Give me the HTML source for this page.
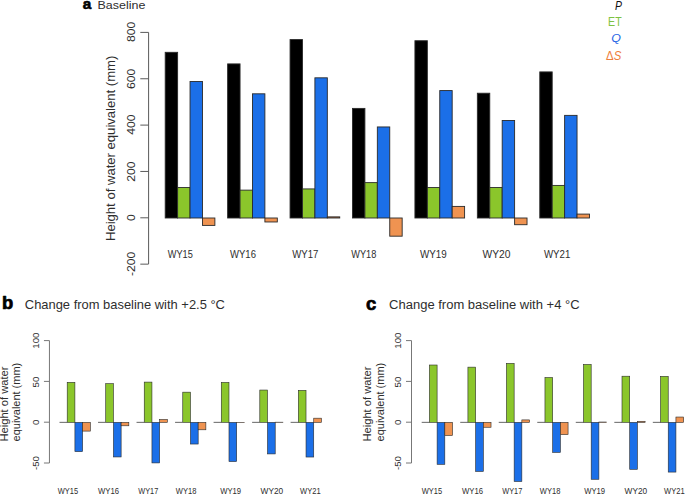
<!DOCTYPE html>
<html><head><meta charset="utf-8"><style>
html,body{margin:0;padding:0;background:#fff;}
svg{display:block;font-family:"Liberation Sans", sans-serif;}
</style></head><body>
<svg width="685" height="495" viewBox="0 0 685 495">
<rect x="165.20" y="52.32" width="12.42" height="165.68" fill="#000" stroke="#2a2a2a" stroke-width="0.9"/>
<rect x="177.62" y="187.51" width="12.42" height="30.49" fill="#8bc62b" stroke="#2a2a2a" stroke-width="0.9"/>
<rect x="190.04" y="81.53" width="12.42" height="136.47" fill="#1b6fe8" stroke="#2a2a2a" stroke-width="0.9"/>
<rect x="202.46" y="218.00" width="12.42" height="7.40" fill="#ef9351" stroke="#2a2a2a" stroke-width="0.9"/>
<rect x="227.63" y="63.90" width="12.42" height="154.10" fill="#000" stroke="#2a2a2a" stroke-width="0.9"/>
<rect x="240.05" y="190.13" width="12.42" height="27.87" fill="#8bc62b" stroke="#2a2a2a" stroke-width="0.9"/>
<rect x="252.47" y="93.81" width="12.42" height="124.19" fill="#1b6fe8" stroke="#2a2a2a" stroke-width="0.9"/>
<rect x="264.89" y="218.00" width="12.42" height="3.97" fill="#ef9351" stroke="#2a2a2a" stroke-width="0.9"/>
<rect x="290.06" y="39.57" width="12.42" height="178.43" fill="#000" stroke="#2a2a2a" stroke-width="0.9"/>
<rect x="302.48" y="188.92" width="12.42" height="29.08" fill="#8bc62b" stroke="#2a2a2a" stroke-width="0.9"/>
<rect x="314.90" y="77.82" width="12.42" height="140.18" fill="#1b6fe8" stroke="#2a2a2a" stroke-width="0.9"/>
<rect x="327.32" y="216.87" width="12.42" height="1.13" fill="#ef9351" stroke="#2a2a2a" stroke-width="0.9"/>
<rect x="352.49" y="108.40" width="12.42" height="109.60" fill="#000" stroke="#2a2a2a" stroke-width="0.9"/>
<rect x="364.91" y="182.62" width="12.42" height="35.38" fill="#8bc62b" stroke="#2a2a2a" stroke-width="0.9"/>
<rect x="377.33" y="126.95" width="12.42" height="91.05" fill="#1b6fe8" stroke="#2a2a2a" stroke-width="0.9"/>
<rect x="389.75" y="218.00" width="12.42" height="18.18" fill="#ef9351" stroke="#2a2a2a" stroke-width="0.9"/>
<rect x="414.92" y="40.73" width="12.42" height="177.27" fill="#000" stroke="#2a2a2a" stroke-width="0.9"/>
<rect x="427.34" y="187.51" width="12.42" height="30.49" fill="#8bc62b" stroke="#2a2a2a" stroke-width="0.9"/>
<rect x="439.76" y="90.57" width="12.42" height="127.43" fill="#1b6fe8" stroke="#2a2a2a" stroke-width="0.9"/>
<rect x="452.18" y="206.40" width="12.42" height="11.60" fill="#ef9351" stroke="#2a2a2a" stroke-width="0.9"/>
<rect x="477.35" y="93.22" width="12.42" height="124.78" fill="#000" stroke="#2a2a2a" stroke-width="0.9"/>
<rect x="489.77" y="187.51" width="12.42" height="30.49" fill="#8bc62b" stroke="#2a2a2a" stroke-width="0.9"/>
<rect x="502.19" y="120.47" width="12.42" height="97.53" fill="#1b6fe8" stroke="#2a2a2a" stroke-width="0.9"/>
<rect x="514.61" y="218.00" width="12.42" height="6.71" fill="#ef9351" stroke="#2a2a2a" stroke-width="0.9"/>
<rect x="539.78" y="71.90" width="12.42" height="146.10" fill="#000" stroke="#2a2a2a" stroke-width="0.9"/>
<rect x="552.20" y="185.42" width="12.42" height="32.58" fill="#8bc62b" stroke="#2a2a2a" stroke-width="0.9"/>
<rect x="564.62" y="115.37" width="12.42" height="102.63" fill="#1b6fe8" stroke="#2a2a2a" stroke-width="0.9"/>
<rect x="577.04" y="214.09" width="12.42" height="3.91" fill="#ef9351" stroke="#2a2a2a" stroke-width="0.9"/>
<path d="M148.6 32.4V264.0" stroke="#5a5a5a" stroke-width="1" fill="none"/>
<path d="M140.3 32.40H148.6" stroke="#5a5a5a" stroke-width="1"/>
<path d="M140.3 78.75H148.6" stroke="#5a5a5a" stroke-width="1"/>
<path d="M140.3 125.10H148.6" stroke="#5a5a5a" stroke-width="1"/>
<path d="M140.3 171.45H148.6" stroke="#5a5a5a" stroke-width="1"/>
<path d="M140.3 217.80H148.6" stroke="#5a5a5a" stroke-width="1"/>
<path d="M140.3 264.15H148.6" stroke="#5a5a5a" stroke-width="1"/>
<path d="M59.50 422.35H67.20" stroke="#555" stroke-width="0.9"/>
<rect x="67.20" y="382.35" width="7.70" height="40.00" fill="#8bc62b" stroke="#2a2a2a" stroke-width="0.6"/>
<rect x="74.91" y="422.35" width="7.70" height="29.28" fill="#1b6fe8" stroke="#2a2a2a" stroke-width="0.6"/>
<rect x="82.61" y="422.35" width="7.70" height="8.75" fill="#ef9351" stroke="#2a2a2a" stroke-width="0.6"/>
<path d="M98.02 422.35H105.72" stroke="#555" stroke-width="0.9"/>
<rect x="105.72" y="383.66" width="7.70" height="38.69" fill="#8bc62b" stroke="#2a2a2a" stroke-width="0.6"/>
<rect x="113.43" y="422.35" width="7.70" height="34.60" fill="#1b6fe8" stroke="#2a2a2a" stroke-width="0.6"/>
<rect x="121.13" y="422.35" width="7.70" height="3.44" fill="#ef9351" stroke="#2a2a2a" stroke-width="0.6"/>
<path d="M136.54 422.35H144.24" stroke="#555" stroke-width="0.9"/>
<rect x="144.24" y="382.10" width="7.70" height="40.25" fill="#8bc62b" stroke="#2a2a2a" stroke-width="0.6"/>
<rect x="151.95" y="422.35" width="7.70" height="40.57" fill="#1b6fe8" stroke="#2a2a2a" stroke-width="0.6"/>
<rect x="159.65" y="419.49" width="7.70" height="2.86" fill="#ef9351" stroke="#2a2a2a" stroke-width="0.6"/>
<path d="M175.06 422.35H182.76" stroke="#555" stroke-width="0.9"/>
<rect x="182.76" y="392.17" width="7.70" height="30.18" fill="#8bc62b" stroke="#2a2a2a" stroke-width="0.6"/>
<rect x="190.47" y="422.35" width="7.70" height="21.68" fill="#1b6fe8" stroke="#2a2a2a" stroke-width="0.6"/>
<rect x="198.17" y="422.35" width="7.70" height="7.44" fill="#ef9351" stroke="#2a2a2a" stroke-width="0.6"/>
<path d="M213.58 422.35H221.28" stroke="#555" stroke-width="0.9"/>
<rect x="221.28" y="382.43" width="7.70" height="39.92" fill="#8bc62b" stroke="#2a2a2a" stroke-width="0.6"/>
<rect x="228.99" y="422.35" width="7.70" height="39.18" fill="#1b6fe8" stroke="#2a2a2a" stroke-width="0.6"/>
<rect x="236.69" y="422.35" width="7.70" height="0.25" fill="#ef9351" stroke="#2a2a2a" stroke-width="0.6"/>
<path d="M252.10 422.35H259.80" stroke="#555" stroke-width="0.9"/>
<rect x="259.80" y="390.04" width="7.70" height="32.31" fill="#8bc62b" stroke="#2a2a2a" stroke-width="0.6"/>
<rect x="267.51" y="422.35" width="7.70" height="31.57" fill="#1b6fe8" stroke="#2a2a2a" stroke-width="0.6"/>
<rect x="275.21" y="422.19" width="7.70" height="0.16" fill="#ef9351" stroke="#2a2a2a" stroke-width="0.6"/>
<path d="M290.62 422.35H298.32" stroke="#555" stroke-width="0.9"/>
<rect x="298.32" y="390.37" width="7.70" height="31.98" fill="#8bc62b" stroke="#2a2a2a" stroke-width="0.6"/>
<rect x="306.03" y="422.35" width="7.70" height="34.68" fill="#1b6fe8" stroke="#2a2a2a" stroke-width="0.6"/>
<rect x="313.73" y="418.18" width="7.70" height="4.17" fill="#ef9351" stroke="#2a2a2a" stroke-width="0.6"/>
<path d="M49.45 340.6V463.0" stroke="#777" stroke-width="1" fill="none"/>
<path d="M43.95 340.60H49.45" stroke="#777" stroke-width="1"/>
<path d="M43.95 381.40H49.45" stroke="#777" stroke-width="1"/>
<path d="M43.95 422.20H49.45" stroke="#777" stroke-width="1"/>
<path d="M43.95 463.00H49.45" stroke="#777" stroke-width="1"/>
<path d="M421.70 422.35H429.40" stroke="#555" stroke-width="0.9"/>
<rect x="429.40" y="365.01" width="7.70" height="57.34" fill="#8bc62b" stroke="#2a2a2a" stroke-width="0.6"/>
<rect x="437.11" y="422.35" width="7.70" height="41.96" fill="#1b6fe8" stroke="#2a2a2a" stroke-width="0.6"/>
<rect x="444.81" y="422.35" width="7.70" height="13.17" fill="#ef9351" stroke="#2a2a2a" stroke-width="0.6"/>
<path d="M460.22 422.35H467.92" stroke="#555" stroke-width="0.9"/>
<rect x="467.92" y="367.14" width="7.70" height="55.21" fill="#8bc62b" stroke="#2a2a2a" stroke-width="0.6"/>
<rect x="475.63" y="422.35" width="7.70" height="49.08" fill="#1b6fe8" stroke="#2a2a2a" stroke-width="0.6"/>
<rect x="483.33" y="422.35" width="7.70" height="4.91" fill="#ef9351" stroke="#2a2a2a" stroke-width="0.6"/>
<path d="M498.74 422.35H506.44" stroke="#555" stroke-width="0.9"/>
<rect x="506.44" y="363.37" width="7.70" height="58.98" fill="#8bc62b" stroke="#2a2a2a" stroke-width="0.6"/>
<rect x="514.15" y="422.35" width="7.70" height="59.14" fill="#1b6fe8" stroke="#2a2a2a" stroke-width="0.6"/>
<rect x="521.85" y="419.90" width="7.70" height="2.45" fill="#ef9351" stroke="#2a2a2a" stroke-width="0.6"/>
<path d="M537.26 422.35H544.96" stroke="#555" stroke-width="0.9"/>
<rect x="544.96" y="377.52" width="7.70" height="44.83" fill="#8bc62b" stroke="#2a2a2a" stroke-width="0.6"/>
<rect x="552.67" y="422.35" width="7.70" height="30.02" fill="#1b6fe8" stroke="#2a2a2a" stroke-width="0.6"/>
<rect x="560.37" y="422.35" width="7.70" height="12.27" fill="#ef9351" stroke="#2a2a2a" stroke-width="0.6"/>
<path d="M575.78 422.35H583.48" stroke="#555" stroke-width="0.9"/>
<rect x="583.48" y="364.44" width="7.70" height="57.91" fill="#8bc62b" stroke="#2a2a2a" stroke-width="0.6"/>
<rect x="591.19" y="422.35" width="7.70" height="56.93" fill="#1b6fe8" stroke="#2a2a2a" stroke-width="0.6"/>
<rect x="598.89" y="422.02" width="7.70" height="0.33" fill="#ef9351" stroke="#2a2a2a" stroke-width="0.6"/>
<path d="M614.30 422.35H622.00" stroke="#555" stroke-width="0.9"/>
<rect x="622.00" y="376.21" width="7.70" height="46.14" fill="#8bc62b" stroke="#2a2a2a" stroke-width="0.6"/>
<rect x="629.71" y="422.35" width="7.70" height="46.95" fill="#1b6fe8" stroke="#2a2a2a" stroke-width="0.6"/>
<rect x="637.41" y="421.29" width="7.70" height="1.06" fill="#ef9351" stroke="#2a2a2a" stroke-width="0.6"/>
<path d="M652.82 422.35H660.52" stroke="#555" stroke-width="0.9"/>
<rect x="660.52" y="376.38" width="7.70" height="45.97" fill="#8bc62b" stroke="#2a2a2a" stroke-width="0.6"/>
<rect x="668.23" y="422.35" width="7.70" height="49.73" fill="#1b6fe8" stroke="#2a2a2a" stroke-width="0.6"/>
<rect x="675.93" y="417.03" width="7.70" height="5.32" fill="#ef9351" stroke="#2a2a2a" stroke-width="0.6"/>
<path d="M411.50 340.6V463.0" stroke="#777" stroke-width="1" fill="none"/>
<path d="M406.00 340.60H411.50" stroke="#777" stroke-width="1"/>
<path d="M406.00 381.40H411.50" stroke="#777" stroke-width="1"/>
<path d="M406.00 422.20H411.50" stroke="#777" stroke-width="1"/>
<path d="M406.00 463.00H411.50" stroke="#777" stroke-width="1"/>
<text class="t" id="pa" transform="translate(82.80 9.00) scale(1.0222 1) translate(0.00 0)" font-size="15.0" font-weight="bold" stroke="#000" stroke-width="0.6" stroke-linejoin="round" fill="#000">a</text>
<text class="t" id="ta" transform="translate(98.60 8.80) scale(1.0591 1) translate(-1.00 0)" font-size="11.8" fill="#2e2e2e">Baseline</text>
<text class="t" id="lP" transform="translate(615.00 9.80) scale(0.8750 1) translate(0.00 0)" font-size="11.9" font-style="italic" fill="#111">P</text>
<text class="t" id="lET" transform="translate(609.00 25.80) scale(0.8929 1) translate(-1.00 0)" font-size="11.9" fill="#7dc242">ET</text>
<text class="t" id="lQ" transform="translate(612.40 42.20) scale(1.1000 1) translate(-1.00 0)" font-size="11.3" font-style="italic" fill="#1f66e5">Q</text>
<text class="t" id="lS" transform="translate(606.10 59.60) scale(0.9500 1) translate(0.00 0)" font-size="12.0" fill="#ee7d3b">Δ<tspan font-style="italic">S</tspan></text>
<text class="t" id="ya" transform="translate(114.70 240.00) rotate(-90) scale(1.0653 1) translate(-1.00 0)" font-size="12.3" fill="#2e2e2e">Height of water equivalent (mm)</text>
<text class="t" id="ya800" transform="translate(134.90 42.10) rotate(-90) scale(1.0778 1) translate(0.00 0)" font-size="11.3" fill="#2e2e2e">800</text>
<text class="t" id="ya600" transform="translate(134.90 87.91) rotate(-90) scale(1.0778 1) translate(-1.00 0)" font-size="11.3" fill="#2e2e2e">600</text>
<text class="t" id="ya400" transform="translate(134.90 134.80) rotate(-90) scale(1.0778 1) translate(0.00 0)" font-size="11.3" fill="#2e2e2e">400</text>
<text class="t" id="ya200" transform="translate(134.90 180.61) rotate(-90) scale(1.0778 1) translate(-1.00 0)" font-size="11.3" fill="#2e2e2e">200</text>
<text class="t" id="ya0" transform="translate(134.90 221.03) rotate(-90) scale(1.0778 1) translate(0.00 0)" font-size="11.3" fill="#2e2e2e">0</text>
<text class="t" id="ya-200" transform="translate(134.90 276.01) rotate(-90) scale(1.0778 1) translate(0.00 0)" font-size="11.3" fill="#2e2e2e">-200</text>
<text class="t" id="xaWY15" transform="translate(167.80 257.50) scale(0.8367 1) translate(0.00 0)" font-size="11.0" fill="#2e2e2e">WY15</text>
<text class="t" id="xaWY16" transform="translate(230.00 257.50) scale(0.8667 1) translate(0.00 0)" font-size="11.0" fill="#2e2e2e">WY16</text>
<text class="t" id="xaWY17" transform="translate(292.30 257.50) scale(0.8724 1) translate(0.00 0)" font-size="11.0" fill="#2e2e2e">WY17</text>
<text class="t" id="xaWY18" transform="translate(351.20 257.50) scale(0.8400 1) translate(0.00 0)" font-size="11.0" fill="#2e2e2e">WY18</text>
<text class="t" id="xaWY19" transform="translate(419.90 257.50) scale(0.8931 1) translate(0.00 0)" font-size="11.0" fill="#2e2e2e">WY19</text>
<text class="t" id="xaWY20" transform="translate(482.60 257.50) scale(0.9333 1) translate(0.00 0)" font-size="11.0" fill="#2e2e2e">WY20</text>
<text class="t" id="xaWY21" transform="translate(543.90 257.50) scale(0.8828 1) translate(0.00 0)" font-size="11.0" fill="#2e2e2e">WY21</text>
<text class="t" id="pb" transform="translate(3.10 309.10) scale(1.0200 1) translate(-1.00 0)" font-size="18.0" font-weight="bold" stroke="#000" stroke-width="0.7" stroke-linejoin="round" fill="#000">b</text>
<text class="t" id="tb" transform="translate(25.80 309.30) scale(1.0020 1) translate(-1.00 0)" font-size="12.9" fill="#2e2e2e">Change from baseline with +2.5 °C</text>
<text class="t" id="y1b" transform="translate(7.90 440.40) rotate(-90) scale(1.0824 1) translate(-1.00 0)" font-size="10.3" fill="#2e2e2e">Height of water</text>
<text class="t" id="y2b" transform="translate(20.20 441.40) rotate(-90) scale(1.0658 1) translate(0.00 0)" font-size="10.3" fill="#2e2e2e">equivalent (mm)</text>
<text class="t" id="yb100b" transform="translate(39.00 347.60) rotate(-90) scale(1.0923 1) translate(-1.00 0)" font-size="8.9" fill="#2e2e2e">100</text>
<text class="t" id="yb50b" transform="translate(39.00 386.32) rotate(-90) scale(1.0923 1) translate(-1.00 0)" font-size="8.9" fill="#2e2e2e">50</text>
<text class="t" id="yb0b" transform="translate(39.00 424.93) rotate(-90) scale(1.0923 1) translate(0.00 0)" font-size="8.9" fill="#2e2e2e">0</text>
<text class="t" id="yb-50b" transform="translate(39.00 470.10) rotate(-90) scale(1.0923 1) translate(0.00 0)" font-size="8.9" fill="#2e2e2e">-50</text>
<text class="t" id="xbWY15" transform="translate(57.80 494.30) scale(0.8500 1) translate(0.00 0)" font-size="8.8" fill="#2e2e2e">WY15</text>
<text class="t" id="xbWY16" transform="translate(98.00 494.30) scale(0.8792 1) translate(0.00 0)" font-size="8.8" fill="#2e2e2e">WY16</text>
<text class="t" id="xbWY17" transform="translate(138.30 494.30) scale(0.8333 1) translate(0.00 0)" font-size="8.8" fill="#2e2e2e">WY17</text>
<text class="t" id="xbWY18" transform="translate(175.80 494.30) scale(0.8583 1) translate(0.00 0)" font-size="8.8" fill="#2e2e2e">WY18</text>
<text class="t" id="xbWY19" transform="translate(220.20 494.30) scale(0.8750 1) translate(0.00 0)" font-size="8.8" fill="#2e2e2e">WY19</text>
<text class="t" id="xbWY20" transform="translate(260.60 494.30) scale(0.9458 1) translate(0.00 0)" font-size="8.8" fill="#2e2e2e">WY20</text>
<text class="t" id="xbWY21" transform="translate(300.10 494.30) scale(0.8583 1) translate(0.00 0)" font-size="8.8" fill="#2e2e2e">WY21</text>
<text class="t" id="pc" transform="translate(366.00 309.60) scale(1.0000 1) translate(0.00 0)" font-size="18.5" font-weight="bold" stroke="#000" stroke-width="0.7" stroke-linejoin="round" fill="#000">c</text>
<text class="t" id="tc" transform="translate(390.10 309.30) scale(1.0091 1) translate(-1.00 0)" font-size="12.9" fill="#2e2e2e">Change from baseline with +4 °C</text>
<text class="t" id="y1c" transform="translate(371.20 440.40) rotate(-90) scale(1.0824 1) translate(-1.00 0)" font-size="10.3" fill="#2e2e2e">Height of water</text>
<text class="t" id="y2c" transform="translate(383.50 441.40) rotate(-90) scale(1.0658 1) translate(0.00 0)" font-size="10.3" fill="#2e2e2e">equivalent (mm)</text>
<text class="t" id="yb100c" transform="translate(401.20 347.60) rotate(-90) scale(1.0923 1) translate(-1.00 0)" font-size="8.9" fill="#2e2e2e">100</text>
<text class="t" id="yb50c" transform="translate(401.20 386.32) rotate(-90) scale(1.0923 1) translate(-1.00 0)" font-size="8.9" fill="#2e2e2e">50</text>
<text class="t" id="yb0c" transform="translate(401.20 424.93) rotate(-90) scale(1.0923 1) translate(0.00 0)" font-size="8.9" fill="#2e2e2e">0</text>
<text class="t" id="yb-50c" transform="translate(401.20 470.10) rotate(-90) scale(1.0923 1) translate(0.00 0)" font-size="8.9" fill="#2e2e2e">-50</text>
<text class="t" id="xcWY15" transform="translate(421.80 494.30) scale(0.8500 1) translate(0.00 0)" font-size="8.8" fill="#2e2e2e">WY15</text>
<text class="t" id="xcWY16" transform="translate(462.00 494.30) scale(0.8792 1) translate(0.00 0)" font-size="8.8" fill="#2e2e2e">WY16</text>
<text class="t" id="xcWY17" transform="translate(502.30 494.30) scale(0.8333 1) translate(0.00 0)" font-size="8.8" fill="#2e2e2e">WY17</text>
<text class="t" id="xcWY18" transform="translate(539.80 494.30) scale(0.8583 1) translate(0.00 0)" font-size="8.8" fill="#2e2e2e">WY18</text>
<text class="t" id="xcWY19" transform="translate(584.20 494.30) scale(0.8750 1) translate(0.00 0)" font-size="8.8" fill="#2e2e2e">WY19</text>
<text class="t" id="xcWY20" transform="translate(624.60 494.30) scale(0.9458 1) translate(0.00 0)" font-size="8.8" fill="#2e2e2e">WY20</text>
<text class="t" id="xcWY21" transform="translate(664.10 494.30) scale(0.8583 1) translate(0.00 0)" font-size="8.8" fill="#2e2e2e">WY21</text>
</svg>
</body></html>
